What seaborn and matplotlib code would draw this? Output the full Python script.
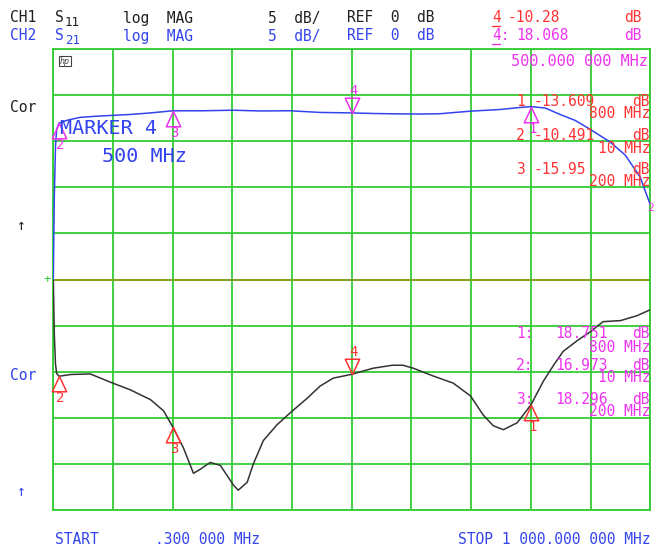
import matplotlib
matplotlib.use('Agg')
import numpy as np
import pandas as pd
import seaborn as sns
import matplotlib.pyplot as plt
from matplotlib.path import Path
from matplotlib.lines import Line2D

# CH1 S11 trace (MHz, dB)
freq_s11 = [0.3, 2, 4, 6, 10, 30, 62, 100, 129, 163, 185, 200, 218, 235, 246, 263, 280,
            302, 310, 325, 335, 352, 375, 397, 426, 447, 469, 500, 536, 568, 586, 603,
            637, 670, 699, 720, 737, 754, 777, 800, 821, 838, 854, 878, 900, 921, 950,
            978, 1000]
db_s11 = [0.0, -6.0, -9.2, -10.2, -10.491, -10.3, -10.24, -11.24, -11.96, -13.03, -14.25,
          -15.95, -18.23, -21.02, -20.6, -19.84, -20.16, -22.3, -22.85, -21.99, -20.05,
          -17.47, -15.75, -14.46, -12.85, -11.56, -10.7, -10.28, -9.62, -9.3, -9.3, -9.62,
          -10.48, -11.24, -12.63, -14.68, -15.86, -16.29, -15.54, -13.609, -11.02, -9.3,
          -7.8, -6.61, -5.65, -4.57, -4.46, -3.92, -3.28]

# CH2 S21 trace (MHz, dB)
freq_s21 = [0.3, 2, 4, 6, 10, 25, 45, 70, 99, 129, 160, 200, 250, 300, 347, 397, 447,
            500, 540, 581, 620, 648, 699, 749, 780, 800, 824, 849, 874, 899, 933, 958,
            983, 1000]
db_s21 = [0.0, 9.0, 14.5, 16.3, 16.973, 17.3, 17.58, 17.7, 17.8, 17.9, 18.05, 18.296,
          18.3, 18.36, 18.28, 18.3, 18.12, 18.068, 18.0, 17.96, 17.95, 17.98, 18.26,
          18.44, 18.65, 18.751, 18.6, 17.9, 17.26, 16.3, 14.9, 13.5, 11.1, 8.1]

# markers
marker_ids = ['1', '2', '3', '4']
marker_freqs = [800, 10, 200, 500]
marker_labels = ['800 MHz', '10 MHz', '200 MHz']
s11_marker_text = ['-13.609', '-10.491', '-15.95', '-10.28']
s11_marker_db = [-13.609, -10.491, -15.95, -10.28]
s21_marker_db = [18.751, 16.973, 18.296, 18.068]

W, H = 656, 549
GREEN = '#33cc33'
BLUE = '#3344ee'
RED = '#ff3333'
MAG = '#ee33ee'
BLACK = '#202020'

sns.set_style('white')
plt.rcParams['font.family'] = ['DejaVu Sans Mono']

fig = plt.figure(figsize=(W / 100, H / 100), dpi=100)
ax = fig.add_axes([53.3 / W, (H - 510) / H, 597 / W, 461 / H])

df11 = pd.DataFrame({'freq': freq_s11, 'db': db_s11})
df21 = pd.DataFrame({'freq': freq_s21, 'db': db_s21})
sns.lineplot(data=df11, x='freq', y='db', ax=ax, color='#333333', lw=1.1,
             estimator=None, sort=False, zorder=3)
sns.lineplot(data=df21, x='freq', y='db', ax=ax, color=BLUE, lw=1.1,
             estimator=None, sort=False, zorder=3)

ax.set_xlim(0.3, 1000)
ax.set_ylim(-25, 25)
ax.set_xticks(np.linspace(0.3, 1000, 11))
ax.set_yticks(np.arange(-25, 26, 5))
ax.set_xticklabels([])
ax.set_yticklabels([])
ax.tick_params(length=0)
ax.set_xlabel('')
ax.set_ylabel('')
ax.grid(True, color=GREEN, lw=1.3)
ax.axhline(0, color='#8a9a1a', lw=1.3, zorder=2)
for sp in ax.spines.values():
    sp.set_color(GREEN)
    sp.set_linewidth(1.3)

# marker shapes: apex at the data point
up_tri = Path([(0, 0), (-0.47, -1), (0.47, -1), (0, 0)],
              [Path.MOVETO, Path.LINETO, Path.LINETO, Path.CLOSEPOLY])
down_tri = Path([(0, 0), (-0.47, 1), (0.47, 1), (0, 0)],
                [Path.MOVETO, Path.LINETO, Path.LINETO, Path.CLOSEPOLY])


def draw_markers(values, color):
    for mid, f, v in zip(marker_ids, marker_freqs, values):
        if mid == '4':
            ax.plot(f, v, marker=down_tri, ms=22, mfc='none', mec=color, mew=1.1,
                    zorder=4, clip_on=False)
            ax.annotate(mid, (f, v), xytext=(1, 16), textcoords='offset points',
                        ha='center', va='center', color=color, fontsize=10)
        else:
            ax.plot(f, v, marker=up_tri, ms=22, mfc='none', mec=color, mew=1.1,
                    zorder=4, clip_on=False)
            ax.annotate(mid, (f, v), xytext=(1, -16), textcoords='offset points',
                        ha='center', va='center', color=color, fontsize=10)


draw_markers(s11_marker_db, RED)
draw_markers(s21_marker_db, MAG)


def ftxt(x, y, s, color, size=10.5, ha='left', **kw):
    fig.text(x / W, 1 - y / H, s, color=color, fontsize=size, ha=ha, va='center', **kw)


def uline(x0, x1, y, color):
    fig.add_artist(Line2D([x0 / W, x1 / W], [1 - y / H, 1 - y / H], color=color, lw=1))


# header lines
for row, (ch, sub, col) in enumerate([('CH1', '11', BLACK), ('CH2', '21', BLUE)]):
    y = 18 + row * 18
    ftxt(10, y, ch, col)
    ftxt(55, y, 'S', col)
    ftxt(65, y + 4, sub, col, size=9)
    ftxt(123, y, 'log  MAG', col)
    ftxt(268, y, '5  dB/', col)
    ftxt(347, y, 'REF  0  dB', col)

ftxt(492, 18, '4', RED)
uline(492, 500, 26, RED)
ftxt(507, 18, s11_marker_text[3], RED)
ftxt(642, 18, 'dB', RED, ha='right')
ftxt(492, 36, '4:', MAG)
uline(492, 500, 44, MAG)
ftxt(516, 36, '%.3f' % s21_marker_db[3], MAG)
ftxt(642, 36, 'dB', MAG, ha='right')

# active marker readout
ftxt(648, 62, '500.000 000 MHz', MAG, size=11, ha='right')
ftxt(60, 128, 'MARKER 4', BLUE, size=14.5)
ftxt(102, 156, '500 MHz', BLUE, size=14.5)

# hp logo
ftxt(60, 61, 'hp', '#444444', size=6, style='italic',
     bbox=dict(boxstyle='square,pad=0.1', fc='none', ec='#444444', lw=0.8))

# marker lists
list_y = [101, 136, 169]
for mid, txt, lab, y in zip(marker_ids[:3], s11_marker_text[:3], marker_labels, list_y):
    ftxt(516, y, mid, RED, size=10.5)
    ftxt(533, y, txt, RED, size=10.5)
    ftxt(650, y, 'dB', RED, size=10.5, ha='right')
    ftxt(650, y + 13, lab, RED, size=10.5, ha='right')

list_y2 = [334, 365, 399]
for mid, v, lab, y in zip(marker_ids[:3], s21_marker_db[:3], marker_labels, list_y2):
    ftxt(516, y, mid + ':', MAG, size=10.5)
    ftxt(555, y, '%.3f' % v, MAG, size=10.5)
    ftxt(650, y, 'dB', MAG, size=10.5, ha='right')
    ftxt(650, y + 13, lab, MAG, size=10.5, ha='right')

# left annotations
ftxt(10, 108, 'Cor', BLACK)
ftxt(17, 226, '\u2191', BLACK)
ftxt(10, 376, 'Cor', BLUE)
ftxt(17, 492, '\u2191', BLUE)
ftxt(44, 280, '+', GREEN, size=9)
ftxt(647, 208, '2', MAG, size=8)

# start / stop
ftxt(55, 540, 'START', BLUE)
ftxt(155, 540, '.300 000 MHz', BLUE)
ftxt(650, 540, 'STOP 1 000.000 000 MHz', BLUE, ha='right')

fig.savefig('out.png', dpi=100, facecolor='white')
